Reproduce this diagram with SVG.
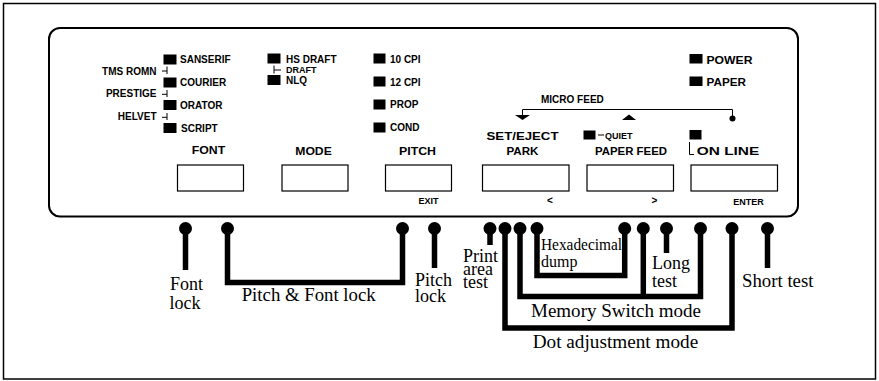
<svg xmlns="http://www.w3.org/2000/svg" width="879" height="381" viewBox="0 0 879 381">
<style>
.frame{fill:none;stroke:#000;stroke-width:1.5}
.panel{fill:none;stroke:#000;stroke-width:2}
.box{fill:none;stroke:#000;stroke-width:1.2}
.led{fill:#000}
.thin{fill:none;stroke:#000;stroke-width:1}
.p{font-family:"Liberation Sans",Arial,Helvetica,sans-serif;font-weight:bold;fill:#000}
.s9{font-size:9px}
.s10{font-size:10px}
.s11{font-size:11px}
.s12{font-size:11.5px}
.cap{font-family:"Liberation Serif","Times New Roman",Times,serif;font-size:18px;fill:#000}
.cap16{font-family:"Liberation Serif","Times New Roman",Times,serif;font-size:16px;fill:#000}
.wire{fill:none;stroke:#000;stroke-width:5.5;stroke-linejoin:miter;stroke-linecap:butt}
.pin{fill:#000}
</style>
<rect class="frame" x="3.5" y="3.5" width="872" height="375.5"/>

<g id="panel">
<rect class="panel" x="49" y="28" width="749" height="188.5" rx="11" ry="11"/>
</g>

<g id="font-group">
<rect class="led" x="163.5" y="54.5" width="13" height="10"/>
<rect class="led" x="163.5" y="77.5" width="13" height="10"/>
<rect class="led" x="163.5" y="100" width="13" height="10"/>
<rect class="led" x="163.5" y="123" width="13" height="10"/>
<text class="p s10" x="180" y="63">SANSERIF</text>
<text class="p s10" x="180" y="86">COURIER</text>
<text class="p s10" x="180" y="108.5">ORATOR</text>
<text class="p s10" x="181" y="131.5">SCRIPT</text>
<text class="p s10" x="156.5" y="74.5" text-anchor="end">TMS ROMN</text>
<text class="p s10" x="156.5" y="96.5" text-anchor="end">PRESTIGE</text>
<text class="p s10" x="156.5" y="119.5" text-anchor="end">HELVET</text>
<path class="thin" d="M162,71H167M167,66.5V74M162,94.3H167M167,90V97M162,117.3H167M167,113V120"/>
<text class="p s11" x="208.5" y="154" text-anchor="middle" textLength="33.5" lengthAdjust="spacingAndGlyphs">FONT</text>
<rect class="box" x="177.5" y="165" width="66" height="26"/>
</g>

<g id="mode-group">
<rect class="led" x="267.5" y="53.5" width="13" height="10"/>
<rect class="led" x="267.5" y="75" width="13" height="10"/>
<text class="p s10" x="286" y="62.5">HS DRAFT</text>
<text class="p s9" x="286" y="73">DRAFT</text>
<text class="p s10" x="286" y="83.5">NLQ</text>
<path class="thin" d="M274,65.5V73.5M274,70H281"/>
<text class="p s11" x="313.5" y="155" text-anchor="middle" textLength="36.5" lengthAdjust="spacingAndGlyphs">MODE</text>
<rect class="box" x="282" y="165" width="66" height="26"/>
</g>

<g id="pitch-group">
<rect class="led" x="373.5" y="53.5" width="12" height="10"/>
<rect class="led" x="373.5" y="76.5" width="12" height="10"/>
<rect class="led" x="373.5" y="99.5" width="12" height="10"/>
<rect class="led" x="373.5" y="122.5" width="12" height="10"/>
<text class="p s10" x="390" y="62.5">10 CPI</text>
<text class="p s10" x="390" y="85.5">12 CPI</text>
<text class="p s10" x="390" y="108">PROP</text>
<text class="p s10" x="390" y="131">COND</text>
<text class="p s11" x="417.5" y="155" text-anchor="middle" textLength="37" lengthAdjust="spacingAndGlyphs">PITCH</text>
<rect class="box" x="385.5" y="165" width="66" height="26"/>
<text class="p s9" x="428.5" y="204" text-anchor="middle">EXIT</text>
</g>

<g id="micro-feed">
<text class="p s10" x="541" y="103">MICRO FEED</text>
<path class="thin" d="M522.5,115V109.5H732.5V118"/>
<path class="led" d="M515,115H530L522.5,120Z"/>
<path class="led" d="M622,120H636L629,114.5Z"/>
<circle class="led" cx="732.5" cy="118.5" r="3"/>
</g>

<g id="set-eject-group">
<text class="p s11" x="522.5" y="140" text-anchor="middle" textLength="72" lengthAdjust="spacingAndGlyphs">SET/EJECT</text>
<text class="p s11" x="522.5" y="154.5" text-anchor="middle" textLength="32" lengthAdjust="spacingAndGlyphs">PARK</text>
<rect class="box" x="482.5" y="165" width="86.5" height="26"/>
<text class="p s10" x="550" y="204" text-anchor="middle">&lt;</text>
</g>

<g id="paper-feed-group">
<rect class="led" x="583.5" y="130.5" width="12" height="9"/>
<path class="thin" d="M598,135H604"/>
<text class="p s9" x="605" y="138.5">QUIET</text>
<text class="p s11" x="631" y="155" text-anchor="middle" textLength="72" lengthAdjust="spacingAndGlyphs">PAPER FEED</text>
<rect class="box" x="587" y="165" width="86.5" height="26"/>
<text class="p s10" x="654.5" y="204" text-anchor="middle">&gt;</text>
</g>

<g id="online-group">
<rect class="led" x="689.5" y="130" width="12" height="9.5"/>
<path class="thin" d="M689.5,142V154.5H694"/>
<text class="p s11" x="728" y="155" text-anchor="middle" textLength="62.5" lengthAdjust="spacingAndGlyphs">ON LINE</text>
<rect class="box" x="691" y="165" width="86.5" height="26"/>
<text class="p s9" x="748.5" y="204.5" text-anchor="middle">ENTER</text>
</g>

<g id="status-leds">
<rect class="led" x="689.5" y="54" width="13" height="9.5"/>
<rect class="led" x="689.5" y="76.5" width="13" height="9.5"/>
<text class="p s12" x="706.5" y="63.5" textLength="46" lengthAdjust="spacingAndGlyphs">POWER</text>
<text class="p s12" x="706.5" y="86" textLength="39.5" lengthAdjust="spacingAndGlyphs">PAPER</text>
</g>

<g id="connectors">
<path class="wire" d="M185.5,228.5V270"/>
<path class="wire" d="M227.5,228.5V282.5H402.5V228.5"/>
<path class="wire" d="M434.5,228.5V268"/>
<path class="wire" d="M490,228.5V245"/>
<path class="wire" d="M505,228.5V328H732V228.5"/>
<path class="wire" d="M520,228.5V296.5H700.5V228.5"/>
<path class="wire" d="M643.3,228.5V296.5"/>
<path class="wire" d="M537,228.5V275.5H624.7V228.5"/>
<path class="wire" d="M666.5,228.5V253"/>
<path class="wire" d="M767.5,228.5V268"/>
</g>

<g id="pins">
<circle class="pin" cx="185.5" cy="228.5" r="6.5"/>
<circle class="pin" cx="227.5" cy="228.5" r="6.5"/>
<circle class="pin" cx="402.5" cy="228.5" r="6.5"/>
<circle class="pin" cx="434.5" cy="228.5" r="6.5"/>
<circle class="pin" cx="490" cy="228.5" r="6.5"/>
<circle class="pin" cx="505" cy="228.5" r="6.5"/>
<circle class="pin" cx="520" cy="228.5" r="6.5"/>
<circle class="pin" cx="537" cy="228.5" r="6.5"/>
<circle class="pin" cx="624.7" cy="228.5" r="6.5"/>
<circle class="pin" cx="643.3" cy="228.5" r="6.5"/>
<circle class="pin" cx="666.5" cy="228.5" r="6.5"/>
<circle class="pin" cx="700.5" cy="228.5" r="6.5"/>
<circle class="pin" cx="732" cy="228.5" r="6.5"/>
<circle class="pin" cx="767.5" cy="228.5" r="6.5"/>
</g>

<g id="labels">
<text class="cap" x="170" y="290">Font</text>
<text class="cap" x="169.5" y="309">lock</text>
<text class="cap" x="241.7" y="301" textLength="134" lengthAdjust="spacingAndGlyphs">Pitch &amp; Font lock</text>
<text class="cap" x="415" y="286">Pitch</text>
<text class="cap" x="415" y="302">lock</text>
<text class="cap" x="463" y="261.5">Print</text>
<text class="cap" x="463" y="274.5">area</text>
<text class="cap" x="463" y="287.5">test</text>
<text class="cap16" x="541" y="249.5" textLength="81" lengthAdjust="spacingAndGlyphs">Hexadecimal</text>
<text class="cap16" x="541" y="266.5">dump</text>
<text class="cap" x="652" y="269">Long</text>
<text class="cap" x="652" y="287">test</text>
<text class="cap" x="742" y="286.5" textLength="71.5" lengthAdjust="spacingAndGlyphs">Short test</text>
<text class="cap" x="531" y="316.5" textLength="170" lengthAdjust="spacingAndGlyphs">Memory Switch mode</text>
<text class="cap" x="532.7" y="348.3" textLength="165.5" lengthAdjust="spacingAndGlyphs">Dot adjustment  mode</text>
</g>
</svg>
